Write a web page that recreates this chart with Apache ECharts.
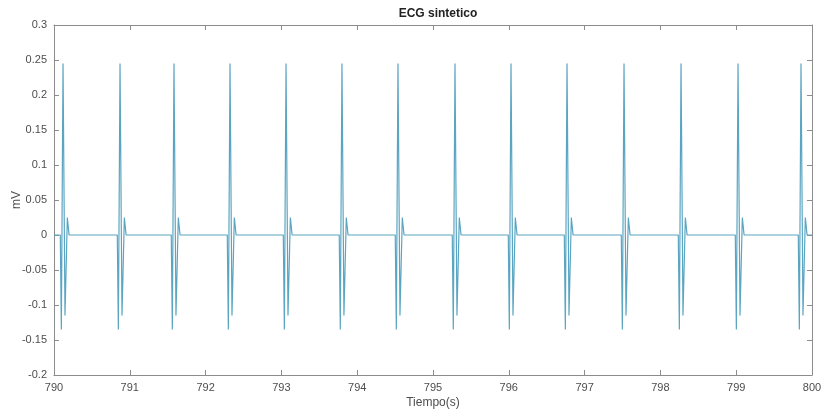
<!DOCTYPE html>
<html>
<head>
<meta charset="utf-8">
<script src="https://cdn.jsdelivr.net/npm/echarts@6/dist/echarts.min.js"></script>
<style>
  html, body { margin: 0; padding: 0; background: #fff; }
  #chart { width: 824px; height: 409px; }
</style>
</head>
<body>
<div id="chart"></div>
<script>
// tiempos de los picos R (s)
const beatTimes = [790.119, 790.871, 791.583, 792.322, 793.061, 793.799, 794.538,
  795.290, 796.029, 796.768, 797.520, 798.272, 799.024, 799.855];
// forma de un complejo QRS: desplazamiento respecto a R (s) y amplitud (mV)
const beatOffsets = [-0.036, -0.022, 0, 0.026, 0.057, 0.080];
const beatValues = [0, -0.135, 0.245, -0.115, 0.025, 0];
const xTicks = [790, 800, 1];
const yTicks = [-0.2, 0.3, 0.05];

const fontName = 'Liberation Sans';
const axisGrey = '#8c8c8c';
const labelGrey = '#4d4d4d';

// armar la serie a partir de los tiempos y la forma del latido
const ecgData = [[xTicks[0], 0]];
beatTimes.forEach((t) => {
  for (let i = 0; i < beatOffsets.length; i++) {
    ecgData.push([t + beatOffsets[i], beatValues[i]]);
  }
});
ecgData.push([xTicks[1], 0]);

const myChart = echarts.init(document.getElementById('chart'));

const boxAxis = {
  axisLine: { show: true, onZero: false, lineStyle: { color: axisGrey, width: 1 } },
  axisTick: { show: true, inside: true, length: 5, lineStyle: { color: axisGrey } },
  splitLine: { show: false },
};

const option = {
  backgroundColor: '#fff',
  animation: false,
  title: {
    text: 'ECG sintetico',
    left: 433,
    textAlign: 'center',
    top: 3,
    textStyle: { fontFamily: fontName, fontSize: 12, fontWeight: 'bold', color: '#222' },
  },
  grid: { left: 54, right: 12, top: 25, bottom: 34, containLabel: false, outerBoundsMode: 'none' },
  xAxis: [
    Object.assign({
      type: 'value',
      min: xTicks[0],
      max: xTicks[1],
      interval: xTicks[2],
      name: 'Tiempo(s)',
      nameLocation: 'middle',
      nameGap: 22,
      nameMoveOverlap: false,
      nameTextStyle: { fontFamily: fontName, fontSize: 12, color: labelGrey },
      axisLabel: { fontFamily: fontName, fontSize: 11, color: labelGrey, margin: 7 },
    }, boxAxis),
    Object.assign({
      type: 'value',
      position: 'top',
      min: xTicks[0],
      max: xTicks[1],
      interval: xTicks[2],
      axisLabel: { show: false },
    }, boxAxis),
  ],
  yAxis: [
    Object.assign({
      type: 'value',
      min: yTicks[0],
      max: yTicks[1],
      interval: yTicks[2],
      name: 'mV',
      nameLocation: 'middle',
      nameGap: 31,
      nameMoveOverlap: false,
      nameTextStyle: { fontFamily: fontName, fontSize: 12, color: labelGrey },
      axisLabel: {
        fontFamily: fontName,
        fontSize: 11,
        color: labelGrey,
        margin: 7,
        formatter: (v) => String(Math.round(v * 100) / 100),
      },
    }, boxAxis),
    Object.assign({
      type: 'value',
      position: 'right',
      min: yTicks[0],
      max: yTicks[1],
      interval: yTicks[2],
      axisLabel: { show: false },
    }, boxAxis),
  ],
  series: [
    {
      type: 'line',
      data: ecgData,
      showSymbol: false,
      symbol: 'none',
      lineStyle: { color: '#5aa5c2', width: 1.2 },
    },
  ],
};

myChart.setOption(option);
</script>
</body>
</html>
